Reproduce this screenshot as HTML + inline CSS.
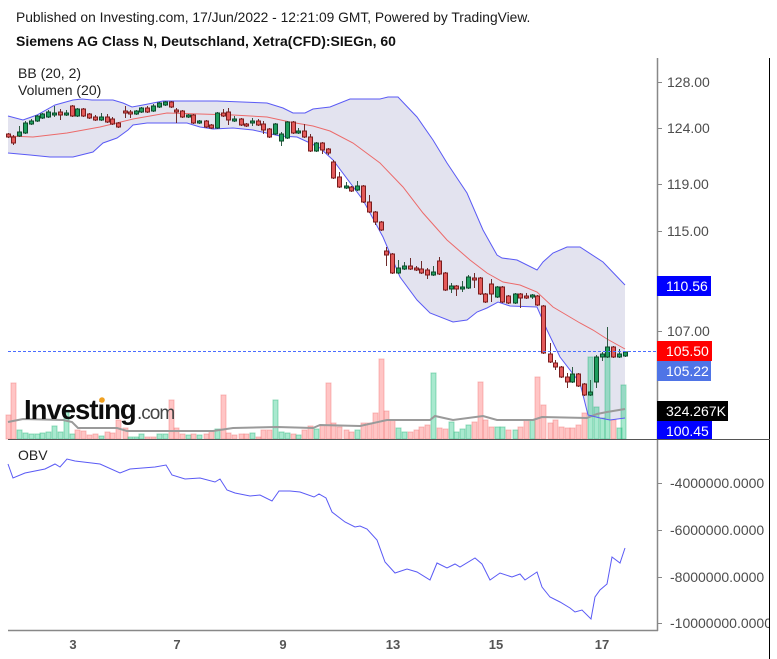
<!DOCTYPE html>
<html><head><meta charset="utf-8"><style>
html,body{margin:0;padding:0;background:#fff;}
svg{display:block;}
text{font-family:"Liberation Sans",Arial,sans-serif;}
.cr{fill:#e35a5a;stroke:#7a1c1c;stroke-width:1;}
.cg{fill:#1f9e5e;stroke:#0c4a2a;stroke-width:1;}
.vr{fill:rgba(255,95,95,0.36);stroke:rgba(240,120,120,0.45);stroke-width:1;}
.vg{fill:rgba(40,200,135,0.40);stroke:rgba(40,180,120,0.45);stroke-width:1;}
.ax{fill:#4d4d4d;font-size:14px;}
.bt{fill:#fff;font-size:14px;}
</style></head><body>
<svg width="777" height="659" viewBox="0 0 777 659" xmlns="http://www.w3.org/2000/svg">
<rect width="777" height="659" fill="#fff"/>
<text x="16" y="22" font-size="13.8" fill="#1a1a1a">Published on Investing.com, 17/Jun/2022 - 12:21:09 GMT, Powered by TradingView.</text>
<text x="16" y="46" font-size="14" font-weight="bold" fill="#111">Siemens AG Class N, Deutschland, Xetra(CFD):SIEGn, 60</text>

<!-- BB fill -->
<polygon fill="#e3e3ef" points="8,116 23,120 37,115 55,105 73,100 82,99 92,100 113,100 123,103 132,107 143,105 163,101 217,101 267,103 283,108 293,113 305,113 313,109 330,107 350,99 380,99 388,97 398,97 417,117 433,140 447,163 467,193 483,230 497,255 502,258 517,260 537,270 543,262 553,253 567,247 580,247 603,262 625,285 625,418 610,420 600,418 588,415 580,383 560,357 547,330 537,307 510,306 498,302 487,308 477,312 467,320 453,322 430,313 417,300 400,277 383,237 363,200 333,160 320,148 310,143 297,137 280,136 253,130 233,128 213,129 200,127 187,123 147,123 133,125 128,130 117,138 103,143 93,152 73,157 50,157 30,155 8,153"/>

<!-- volume bars -->
<g>
<rect class="vr" x="6" y="415" width="5" height="24"/>
<rect class="vr" x="11" y="383" width="5" height="56"/>
<rect class="vg" x="17" y="430" width="5" height="9"/>
<rect class="vg" x="23" y="433" width="5" height="6"/>
<rect class="vg" x="29" y="434" width="5" height="5"/>
<rect class="vg" x="35" y="434" width="5" height="5"/>
<rect class="vg" x="40" y="433" width="5" height="6"/>
<rect class="vg" x="46" y="432" width="5" height="7"/>
<rect class="vg" x="52" y="426" width="5" height="13"/>
<rect class="vg" x="58" y="432" width="5" height="7"/>
<rect class="vg" x="64" y="410" width="5" height="29"/>
<rect class="vg" x="70" y="434" width="5" height="5"/>
<rect class="vr" x="75" y="430" width="5" height="9"/>
<rect class="vr" x="81" y="431" width="5" height="8"/>
<rect class="vr" x="87" y="435" width="5" height="4"/>
<rect class="vr" x="93" y="434" width="5" height="5"/>
<rect class="vg" x="99" y="436" width="5" height="3"/>
<rect class="vr" x="105" y="432" width="5" height="7"/>
<rect class="vr" x="110" y="433" width="5" height="6"/>
<rect class="vr" x="116" y="420" width="5" height="19"/>
<rect class="vr" x="123" y="428" width="5" height="11"/>
<rect class="vg" x="128" y="437" width="5" height="2"/>
<rect class="vg" x="134" y="437" width="5" height="2"/>
<rect class="vg" x="139" y="434" width="5" height="5"/>
<rect class="vr" x="145" y="437" width="5" height="2"/>
<rect class="vr" x="151" y="437" width="5" height="2"/>
<rect class="vg" x="157" y="434" width="5" height="5"/>
<rect class="vg" x="163" y="434" width="5" height="5"/>
<rect class="vr" x="169" y="400" width="5" height="39"/>
<rect class="vr" x="174" y="428" width="5" height="11"/>
<rect class="vr" x="180" y="434" width="5" height="5"/>
<rect class="vg" x="186" y="435" width="5" height="4"/>
<rect class="vr" x="191" y="434" width="5" height="5"/>
<rect class="vg" x="197" y="435" width="5" height="4"/>
<rect class="vr" x="204" y="434" width="5" height="5"/>
<rect class="vr" x="209" y="431" width="5" height="8"/>
<rect class="vg" x="215" y="429" width="5" height="10"/>
<rect class="vr" x="221" y="395" width="5" height="44"/>
<rect class="vr" x="226" y="433" width="5" height="6"/>
<rect class="vr" x="232" y="435" width="5" height="4"/>
<rect class="vr" x="239" y="434" width="5" height="5"/>
<rect class="vr" x="244" y="434" width="5" height="5"/>
<rect class="vg" x="250" y="433" width="5" height="6"/>
<rect class="vr" x="256" y="437" width="5" height="2"/>
<rect class="vr" x="261" y="430" width="5" height="9"/>
<rect class="vr" x="267" y="430" width="5" height="9"/>
<rect class="vg" x="273" y="400" width="5" height="39"/>
<rect class="vg" x="279" y="432" width="5" height="7"/>
<rect class="vg" x="285" y="433" width="5" height="6"/>
<rect class="vr" x="291" y="434" width="5" height="5"/>
<rect class="vg" x="296" y="435" width="5" height="4"/>
<rect class="vr" x="302" y="430" width="5" height="9"/>
<rect class="vr" x="308" y="426" width="5" height="13"/>
<rect class="vg" x="314" y="429" width="5" height="10"/>
<rect class="vr" x="320" y="425" width="5" height="14"/>
<rect class="vr" x="326" y="383" width="5" height="56"/>
<rect class="vr" x="331" y="423" width="5" height="16"/>
<rect class="vr" x="337" y="427" width="5" height="12"/>
<rect class="vr" x="344" y="430" width="5" height="9"/>
<rect class="vr" x="349" y="432" width="5" height="7"/>
<rect class="vg" x="355" y="430" width="5" height="9"/>
<rect class="vr" x="361" y="423" width="5" height="16"/>
<rect class="vr" x="367" y="423" width="5" height="16"/>
<rect class="vr" x="373" y="413" width="5" height="26"/>
<rect class="vr" x="379" y="359" width="5" height="80"/>
<rect class="vr" x="384" y="411" width="5" height="28"/>
<rect class="vr" x="390" y="420" width="5" height="19"/>
<rect class="vg" x="396" y="428" width="5" height="11"/>
<rect class="vg" x="402" y="432" width="5" height="7"/>
<rect class="vr" x="408" y="432" width="5" height="7"/>
<rect class="vr" x="414" y="430" width="5" height="9"/>
<rect class="vr" x="419" y="427" width="5" height="12"/>
<rect class="vr" x="425" y="425" width="5" height="14"/>
<rect class="vg" x="431" y="373" width="5" height="66"/>
<rect class="vr" x="437" y="428" width="5" height="11"/>
<rect class="vr" x="443" y="429" width="5" height="10"/>
<rect class="vg" x="449" y="422" width="5" height="17"/>
<rect class="vg" x="454" y="432" width="5" height="7"/>
<rect class="vg" x="460" y="429" width="5" height="10"/>
<rect class="vg" x="466" y="425" width="5" height="14"/>
<rect class="vr" x="472" y="422" width="5" height="17"/>
<rect class="vr" x="478" y="382" width="5" height="57"/>
<rect class="vr" x="483" y="420" width="5" height="19"/>
<rect class="vr" x="489" y="427" width="5" height="12"/>
<rect class="vg" x="495" y="427" width="5" height="12"/>
<rect class="vg" x="500" y="427" width="5" height="12"/>
<rect class="vr" x="506" y="430" width="5" height="9"/>
<rect class="vg" x="513" y="430" width="5" height="9"/>
<rect class="vr" x="518" y="427" width="5" height="12"/>
<rect class="vr" x="524" y="420" width="5" height="19"/>
<rect class="vg" x="530" y="420" width="5" height="19"/>
<rect class="vr" x="535" y="377" width="5" height="62"/>
<rect class="vr" x="541" y="405" width="5" height="34"/>
<rect class="vr" x="548" y="423" width="5" height="16"/>
<rect class="vr" x="553" y="420" width="5" height="19"/>
<rect class="vr" x="559" y="427" width="5" height="12"/>
<rect class="vr" x="565" y="428" width="5" height="11"/>
<rect class="vr" x="570" y="428" width="5" height="11"/>
<rect class="vr" x="576" y="425" width="5" height="14"/>
<rect class="vr" x="582" y="413" width="5" height="26"/>
<rect class="vg" x="588" y="357" width="5" height="82"/>
<rect class="vg" x="594" y="407" width="5" height="32"/>
<rect class="vg" x="600" y="418" width="5" height="21"/>
<rect class="vg" x="605" y="353" width="5" height="86"/>
<rect class="vr" x="611" y="420" width="5" height="19"/>
<rect class="vg" x="617" y="428" width="5" height="11"/>
<rect class="vg" x="621" y="385" width="5" height="54"/>
</g>

<!-- volume MA -->
<polyline fill="none" stroke="#9a9a9a" stroke-width="2" points="8,422 23,419 63,420 72,422 78,428 117,428 127,431 213,431 233,428 277,427 313,428 320,425 360,426 387,420 430,420 435,416 453,420 483,416 497,420 533,420 542,417 587,418 597,414 607,412 625,409"/>

<!-- BB lines -->
<polyline fill="none" stroke="#5a5af5" stroke-width="1" points="8,116 23,120 37,115 55,105 73,100 82,99 92,100 113,100 123,103 132,107 143,105 163,101 217,101 267,103 283,108 293,113 305,113 313,109 330,107 350,99 380,99 388,97 398,97 417,117 433,140 447,163 467,193 483,230 497,255 502,258 517,260 537,270 543,262 553,253 567,247 580,247 603,262 625,285"/>
<polyline fill="none" stroke="#5a5af5" stroke-width="1" points="8,153 30,155 50,157 73,157 93,152 103,143 117,138 128,130 133,125 147,123 187,123 200,127 213,129 233,128 253,130 280,136 297,137 310,143 320,148 333,160 363,200 383,237 400,277 417,300 430,313 453,322 467,320 477,312 487,308 498,302 510,306 537,307 547,330 560,357 580,383 588,415 600,418 610,420 625,418"/>
<polyline fill="none" stroke="#ec6a6a" stroke-width="1" points="8,136 33,137 67,133 100,127 133,119 167,113 200,114 233,115 267,117 290,122 313,126 330,131 353,143 380,163 403,187 423,213 447,240 470,260 487,273 503,282 520,285 537,292 553,307 580,323 593,330 607,339 625,349"/>

<!-- wicks -->
<path fill="none" stroke="#6e2a2a" stroke-width="1" d="M8.5 133V138M13.5 135V145M60.5 109V120M72.5 105V117M83.5 108V117M89.5 113V119M95.5 115V121M107.5 114V123M112.5 117V125M118.5 122V128M125.5 106V118M130.5 110V118M147.5 106V113M171.5 101V108M176.5 108V123M182.5 110V118M193.5 114V124M206.5 120V128M211.5 124V129M223.5 109V117M228.5 108V125M241.5 118V126M246.5 123V127M258.5 119V126M263.5 121V134M269.5 128V138M293.5 121V134M304.5 124V138M310.5 134V152M322.5 142V154M328.5 148V155M333.5 160V179M339.5 172V188M351.5 186V192M363.5 185V203M369.5 195V213M375.5 211V225M381.5 221V231M386.5 247V266M392.5 253V274M410.5 258V270M416.5 266V271M421.5 261V274M427.5 268V279M439.5 257V275M445.5 272V291M456.5 285V296M474.5 273V288M480.5 277V295M485.5 293V303M491.5 279V302M502.5 286V303M508.5 295V304M520.5 293V308M526.5 293V299M537.5 295V306M543.5 305V354M550.5 343V363M555.5 360V370M561.5 366V378M567.5 373V388M578.5 373V387M584.5 383V396M613.5 346V358"/>
<path fill="none" stroke="#2e5c44" stroke-width="1" d="M19.5 126V137M25.5 121V134M31.5 119V125M37.5 115V122M42.5 113V119M48.5 110V118M54.5 106V117M66.5 110V116M77.5 108V117M101.5 113V121M136.5 110V115M141.5 107V113M153.5 104V112M159.5 102V108M165.5 101V106M188.5 114V118M199.5 120V124M217.5 112V129M234.5 116V122M252.5 118V126M275.5 123V135M281.5 132V146M287.5 121V139M298.5 128V134M316.5 142V152M346.5 182V189M357.5 181V191M398.5 260V274M404.5 262V270M433.5 266V276M451.5 283V293M462.5 281V292M468.5 275V289M497.5 286V298M515.5 293V304M532.5 294V299M572.5 367V383M590.5 380V396M596.5 355V388M602.5 352V361M607.5 327V358M619.5 349V358M625.5 351V357"/>

<!-- red bodies -->
<g class="cr">
<rect x="6.5" y="134" width="4" height="3"/>
<rect x="11.5" y="137" width="4" height="6"/>
<rect x="58.5" y="112" width="4" height="3"/>
<rect x="70.5" y="106" width="4" height="10"/>
<rect x="81.5" y="109" width="4" height="7"/>
<rect x="87.5" y="114" width="4" height="4"/>
<rect x="93.5" y="117" width="4" height="3"/>
<rect x="105.5" y="117" width="4" height="5"/>
<rect x="110.5" y="119" width="4" height="5"/>
<rect x="116.5" y="123" width="4" height="4"/>
<rect x="123.5" y="111" width="4" height="2"/>
<rect x="128.5" y="112" width="4" height="2"/>
<rect x="145.5" y="108" width="4" height="4"/>
<rect x="169.5" y="102" width="4" height="5"/>
<rect x="174.5" y="110" width="4" height="2"/>
<rect x="180.5" y="111" width="4" height="6"/>
<rect x="191.5" y="115" width="4" height="8"/>
<rect x="204.5" y="121" width="4" height="6"/>
<rect x="209.5" y="125" width="4" height="3"/>
<rect x="221.5" y="113" width="4" height="3"/>
<rect x="226.5" y="112" width="4" height="8"/>
<rect x="239.5" y="119" width="4" height="6"/>
<rect x="244.5" y="124" width="4" height="2"/>
<rect x="256.5" y="121" width="4" height="4"/>
<rect x="261.5" y="124" width="4" height="6"/>
<rect x="267.5" y="129" width="4" height="8"/>
<rect x="291.5" y="122" width="4" height="11"/>
<rect x="302.5" y="131" width="4" height="6"/>
<rect x="308.5" y="137" width="4" height="14"/>
<rect x="320.5" y="143" width="4" height="7"/>
<rect x="326.5" y="149" width="4" height="4"/>
<rect x="331.5" y="162" width="4" height="16"/>
<rect x="337.5" y="177" width="4" height="10"/>
<rect x="349.5" y="187" width="4" height="4"/>
<rect x="361.5" y="186" width="4" height="16"/>
<rect x="367.5" y="202" width="4" height="10"/>
<rect x="373.5" y="212" width="4" height="10"/>
<rect x="379.5" y="222" width="4" height="8"/>
<rect x="384.5" y="251" width="4" height="4"/>
<rect x="390.5" y="254" width="4" height="19"/>
<rect x="408.5" y="266" width="4" height="3"/>
<rect x="414.5" y="268" width="4" height="2"/>
<rect x="419.5" y="269" width="4" height="4"/>
<rect x="425.5" y="270" width="4" height="5"/>
<rect x="437.5" y="261" width="4" height="13"/>
<rect x="443.5" y="273" width="4" height="17"/>
<rect x="454.5" y="286" width="4" height="3"/>
<rect x="472.5" y="278" width="4" height="2"/>
<rect x="478.5" y="278" width="4" height="16"/>
<rect x="483.5" y="294" width="4" height="8"/>
<rect x="489.5" y="284" width="4" height="10"/>
<rect x="500.5" y="287" width="4" height="15"/>
<rect x="506.5" y="296" width="4" height="7"/>
<rect x="518.5" y="294" width="4" height="4"/>
<rect x="524.5" y="296" width="4" height="2"/>
<rect x="535.5" y="296" width="4" height="9"/>
<rect x="541.5" y="306" width="4" height="47"/>
<rect x="548.5" y="354" width="4" height="8"/>
<rect x="553.5" y="363" width="4" height="4"/>
<rect x="559.5" y="367" width="4" height="10"/>
<rect x="565.5" y="377" width="4" height="5"/>
<rect x="576.5" y="374" width="4" height="12"/>
<rect x="582.5" y="384" width="4" height="11"/>
<rect x="611.5" y="347" width="4" height="10"/>
</g>
<!-- green bodies -->
<g class="cg">
<rect x="17.5" y="132" width="4" height="4"/>
<rect x="23.5" y="123" width="4" height="10"/>
<rect x="29.5" y="121" width="4" height="3"/>
<rect x="35.5" y="116" width="4" height="5"/>
<rect x="40.5" y="114" width="4" height="4"/>
<rect x="46.5" y="112" width="4" height="5"/>
<rect x="52.5" y="113" width="4" height="2"/>
<rect x="64.5" y="113" width="4" height="2"/>
<rect x="75.5" y="109" width="4" height="7"/>
<rect x="99.5" y="117" width="4" height="3"/>
<rect x="134.5" y="111" width="4" height="3"/>
<rect x="139.5" y="108" width="4" height="4"/>
<rect x="151.5" y="106" width="4" height="5"/>
<rect x="157.5" y="103" width="4" height="4"/>
<rect x="163.5" y="102" width="4" height="3"/>
<rect x="186.5" y="115" width="4" height="2"/>
<rect x="197.5" y="121" width="4" height="2"/>
<rect x="215.5" y="113" width="4" height="15"/>
<rect x="232.5" y="119" width="4" height="2"/>
<rect x="250.5" y="121" width="4" height="2"/>
<rect x="273.5" y="124" width="4" height="10"/>
<rect x="279.5" y="134" width="4" height="7"/>
<rect x="285.5" y="122" width="4" height="16"/>
<rect x="296.5" y="131" width="4" height="2"/>
<rect x="314.5" y="143" width="4" height="8"/>
<rect x="344.5" y="186" width="4" height="2"/>
<rect x="355.5" y="186" width="4" height="4"/>
<rect x="396.5" y="268" width="4" height="5"/>
<rect x="402.5" y="266" width="4" height="3"/>
<rect x="431.5" y="272" width="4" height="3"/>
<rect x="449.5" y="286" width="4" height="3"/>
<rect x="460.5" y="287" width="4" height="2"/>
<rect x="466.5" y="277" width="4" height="11"/>
<rect x="495.5" y="287" width="4" height="10"/>
<rect x="513.5" y="294" width="4" height="9"/>
<rect x="530.5" y="295" width="4" height="2"/>
<rect x="570.5" y="374" width="4" height="8"/>
<rect x="588.5" y="392" width="4" height="3"/>
<rect x="594.5" y="357" width="4" height="25"/>
<rect x="600.5" y="354" width="4" height="3"/>
<rect x="605.5" y="347" width="4" height="10"/>
<rect x="617.5" y="354" width="4" height="3"/>
<rect x="623.5" y="352" width="4" height="4"/>
</g>

<!-- last price dashed line -->
<line x1="8" y1="351.5" x2="657" y2="351.5" stroke="#4a6cff" stroke-width="1" stroke-dasharray="3,2"/>

<!-- logo -->
<text x="24" y="419" font-size="27.5" font-weight="bold" fill="#0d0d0d" letter-spacing="-1">Investing</text>
<text x="137" y="419" font-size="19" fill="#444" letter-spacing="-1">.com</text>
<circle cx="102" cy="400" r="2.8" fill="#f0a020"/>

<!-- legends -->
<text x="18" y="78" font-size="14" fill="#222">BB (20, 2)</text>
<text x="18" y="95" font-size="14" fill="#222">Volumen (20)</text>
<text x="18" y="460" font-size="14" fill="#222">OBV</text>

<!-- OBV -->
<polyline fill="none" stroke="#5a5af5" stroke-width="1" points="8,464 13,478 25,473 45,469 55,464 60,467 67,459 75,461 100,464 120,473 130,469 155,467 166,465 172,475 185,479 200,478 215,482 220,479 227,490 235,493 250,496 260,495 272,501 279,491 290,491 300,492 314,497 319,494 326,498 332,512 345,522 355,527 360,526 367,529 377,540 385,562 395,573 407,569 417,572 430,580 437,563 447,568 455,564 460,567 475,558 482,564 490,580 500,573 512,577 520,574 525,580 537,572 542,587 550,597 560,602 570,608 575,612 582,610 591,619 595,597 600,590 607,584 612,557 620,563 625,548"/>

<!-- frame -->
<line x1="657.5" y1="58" x2="657.5" y2="631" stroke="#888" stroke-width="1.5"/>
<line x1="769.5" y1="58" x2="769.5" y2="659" stroke="#000" stroke-width="1"/>
<line x1="8" y1="439.5" x2="770" y2="439.5" stroke="#555" stroke-width="1"/>
<line x1="8" y1="630.5" x2="658" y2="630.5" stroke="#888" stroke-width="1.5"/>

<!-- price axis -->
<g stroke="#888" stroke-width="1">
<line x1="657" y1="82.5" x2="662" y2="82.5"/>
<line x1="657" y1="128.5" x2="662" y2="128.5"/>
<line x1="657" y1="184.5" x2="662" y2="184.5"/>
<line x1="657" y1="231.5" x2="662" y2="231.5"/>
<line x1="657" y1="331.5" x2="662" y2="331.5"/>
<line x1="657" y1="483.5" x2="662" y2="483.5"/>
<line x1="657" y1="530.5" x2="662" y2="530.5"/>
<line x1="657" y1="577.5" x2="662" y2="577.5"/>
<line x1="657" y1="623.5" x2="662" y2="623.5"/>
</g>
<text class="ax" x="667" y="87">128.00</text>
<text class="ax" x="667" y="133">124.00</text>
<text class="ax" x="667" y="189">119.00</text>
<text class="ax" x="667" y="236">115.00</text>
<text class="ax" x="667" y="336">107.00</text>

<rect x="657" y="276" width="54" height="20" fill="#0000ff"/>
<text class="bt" x="666" y="291">110.56</text>
<rect x="657" y="341" width="55" height="20" fill="#ff0000"/>
<text class="bt" x="666" y="356">105.50</text>
<rect x="657" y="361" width="54" height="20" fill="#4f74e6"/>
<text class="bt" x="666" y="376">105.22</text>
<rect x="657" y="401" width="71" height="20" fill="#000"/>
<text class="bt" x="666" y="416">324.267K</text>
<rect x="657" y="421" width="55" height="18" fill="#0000ff"/>
<text class="bt" x="666" y="436">100.45</text>

<svg x="0" y="440" width="769" height="219" overflow="hidden">
<text class="ax" x="670" y="48">-4000000.0000</text>
<text class="ax" x="670" y="95">-6000000.0000</text>
<text class="ax" x="670" y="142">-8000000.0000</text>
<text class="ax" x="670" y="188">-10000000.0000</text>
</svg>

<!-- x axis -->
<g font-size="13" font-weight="bold" fill="#555" text-anchor="middle">
<text x="73" y="649">3</text>
<text x="177" y="649">7</text>
<text x="283" y="649">9</text>
<text x="393" y="649">13</text>
<text x="496" y="649">15</text>
<text x="602" y="649">17</text>
</g>
</svg>
</body></html>
